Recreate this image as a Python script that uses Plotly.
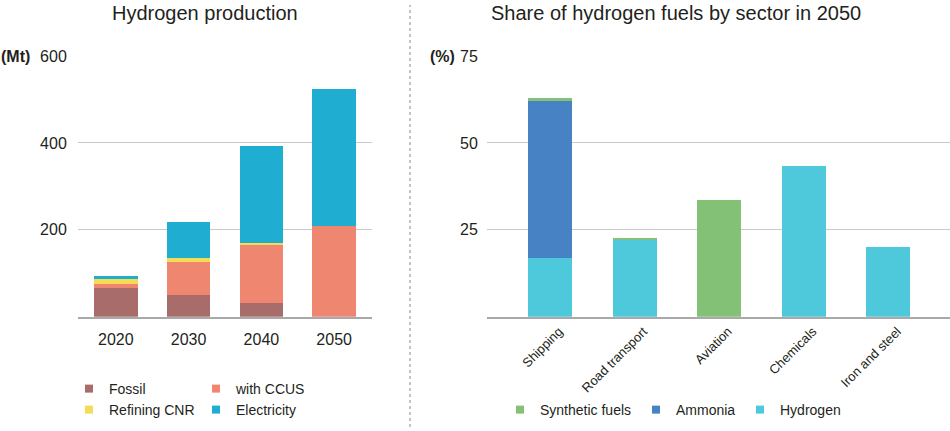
import plotly.graph_objects as go

# ---- data ----
years = ["2020", "2030", "2040", "2050"]
fossil = [65, 49, 32, 0]
ccus = [11, 76, 132, 208]
refining = [11, 11, 6, 0]
electricity = [6, 81, 222, 316]

sectors = ["Shipping", "Road transport", "Aviation", "Chemicals", "Iron and steel"]
hydrogen = [17, 22, 0, 43.4, 20.1]
ammonia = [45, 0, 0, 0, 0]
synthetic = [0.9, 0.7, 33.6, 0, 0]

left_ticks = [200, 400, 600]
right_ticks = [25, 50, 75]

# ---- style ----
FONT = "Liberation Sans, Arial, sans-serif"
TXT = "#231f20"
C_FOSSIL = "#a86c6a"
C_CCUS = "#ef8670"
C_REF = "#f4dd55"
C_ELEC = "#1fadd2"
C_SYN = "#82c176"
C_AMM = "#4682c4"
C_HYD = "#4ec9db"
W, H = 950, 431

fig = go.Figure()

def bar(x, y, name, color, xa, ya, width):
    fig.add_trace(go.Bar(x=x, y=y, name=name, marker=dict(color=color, line=dict(width=0)),
                         width=width, xaxis=xa, yaxis=ya, showlegend=False))

def legend_item(name, color, legend):
    fig.add_trace(go.Scatter(x=[None], y=[None], mode="markers", name=name,
                             marker=dict(symbol="square", size=8, color=color),
                             legend=legend, xaxis="x", yaxis="y"))

bar(years, fossil, "Fossil", C_FOSSIL, "x", "y", 0.6)
bar(years, ccus, "with CCUS", C_CCUS, "x", "y", 0.6)
bar(years, refining, "Refining CNR", C_REF, "x", "y", 0.6)
bar(years, electricity, "Electricity", C_ELEC, "x", "y", 0.6)

bar(sectors, hydrogen, "Hydrogen", C_HYD, "x2", "y2", 0.52)
bar(sectors, ammonia, "Ammonia", C_AMM, "x2", "y2", 0.52)
bar(sectors, synthetic, "Synthetic fuels", C_SYN, "x2", "y2", 0.52)

legend_item("Fossil", C_FOSSIL, "legend")
legend_item("with CCUS", C_CCUS, "legend2")
legend_item("Refining CNR", C_REF, "legend3")
legend_item("Electricity", C_ELEC, "legend4")
legend_item("Synthetic fuels", C_SYN, "legend5")
legend_item("Ammonia", C_AMM, "legend6")
legend_item("Hydrogen", C_HYD, "legend7")

def leg(xpx, ypx):
    return dict(x=xpx / W, y=1 - ypx / H, xanchor="left", yanchor="middle",
                orientation="h", bgcolor="rgba(0,0,0,0)", borderwidth=0,
                font=dict(family=FONT, size=14, color=TXT), itemwidth=30)

ydom = [1 - 316.7 / H, 1 - 56 / H]

fig.update_layout(
    width=W, height=H, margin=dict(l=0, r=0, t=0, b=0, autoexpand=False),
    paper_bgcolor="white", plot_bgcolor="white",
    barmode="stack", font=dict(family=FONT, color=TXT),
    xaxis=dict(domain=[78 / W, 372 / W], range=[-0.52, 3.52], showgrid=False,
               showline=True, linecolor="#a9a9a9", linewidth=2,
               ticks="outside", ticklen=7, tickcolor="rgba(0,0,0,0)",
               tickfont=dict(size=16, color=TXT, family=FONT), fixedrange=True),
    yaxis=dict(domain=ydom, range=[0, 600], tickvals=left_ticks, showgrid=True,
               gridcolor="#c9c9c9", gridwidth=1, zeroline=False,
               ticks="outside", ticklen=7, tickcolor="rgba(0,0,0,0)",
               tickfont=dict(size=16, color=TXT, family=FONT)),
    xaxis2=dict(domain=[487 / W, 1.0], range=[-0.745, 4.73], showgrid=False,
                showline=True, linecolor="#a9a9a9", linewidth=2, tickangle=-45,
                ticks="", ticklabelshift=9, ticklabelstandoff=0,
                tickfont=dict(size=13, color=TXT, family=FONT), anchor="y2"),
    yaxis2=dict(domain=ydom, range=[0, 75], tickvals=right_ticks, showgrid=True,
                gridcolor="#c9c9c9", gridwidth=1, zeroline=False, anchor="x2",
                ticks="outside", ticklen=5, tickcolor="rgba(0,0,0,0)",
                tickfont=dict(size=16, color=TXT, family=FONT)),
    legend=leg(69, 389), legend2=leg(196, 389),
    legend3=leg(69, 410), legend4=leg(196, 410),
    legend5=leg(500, 410), legend6=leg(636, 410), legend7=leg(740, 410),
    annotations=[
        dict(text="Hydrogen production", x=205 / W, y=1 - 13 / H, xref="paper", yref="paper",
             showarrow=False, xanchor="center", yanchor="middle",
             font=dict(size=20, color=TXT, family=FONT)),
        dict(text="Share of hydrogen fuels by sector in 2050", x=676 / W, y=1 - 13 / H,
             xref="paper", yref="paper", showarrow=False, xanchor="center", yanchor="middle",
             font=dict(size=20, color=TXT, family=FONT)),
        dict(text="<b>(Mt)</b>", x=-1 / W, y=1 - 56 / H, xref="paper", yref="paper",
             showarrow=False, xanchor="left", yanchor="middle",
             font=dict(size=16, color=TXT, family=FONT)),
        dict(text="<b>(%)</b>", x=457 / W, y=1 - 56 / H, xref="paper", yref="paper",
             showarrow=False, xanchor="right", yanchor="middle",
             font=dict(size=16, color=TXT, family=FONT)),
    ],
    shapes=[dict(type="line", xref="paper", yref="paper", x0=410 / W, x1=410 / W,
                 y0=1 - 427 / H, y1=1 - 5 / H,
                 line=dict(color="#c4c4c4", width=2, dash="3px,3px"))],
)

fig.write_html("out.html", config={"displayModeBar": False},
               post_script="document.body.style.margin='0';")
